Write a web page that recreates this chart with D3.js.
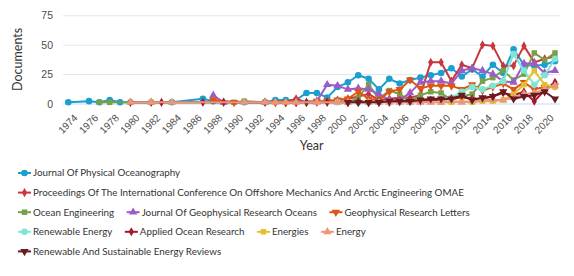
<!DOCTYPE html>
<html>
<head>
<meta charset="utf-8">
<script src="https://cdn.jsdelivr.net/npm/d3@7"></script>
<style>
body { margin: 0; background: #fff; }
svg { display: block; font-family: Lato, "Open Sans", sans-serif; }
</style>
</head>
<body>
<div id="canvas"></div>
<script>
const tickYears = [1974, 1976, 1978, 1980, 1982, 1984, 1986, 1988, 1990, 1992, 1994, 1996,
    1998, 2000, 2002, 2004, 2006, 2008, 2010, 2012, 2014, 2016, 2018, 2020]
const yTicks = [0, 25, 50, 75]

const names = [
    "Journal Of Physical Oceanography",
    "Proceedings Of The International Conference On Offshore Mechanics And Arctic Engineering OMAE",
    "Ocean Engineering",
    "Journal Of Geophysical Research Oceans",
    "Geophysical Research Letters",
    "Renewable Energy",
    "Applied Ocean Research",
    "Energies",
    "Energy",
    "Renewable And Sustainable Energy Reviews"
]
const colors = ["#1a9fd0", "#c6383e", "#78a04b", "#9c5cc6", "#de5412",
    "#7fe6d6", "#a3182b", "#e2c12c", "#ea987b", "#6b1a20"]
const symbols = [d3.symbolCircle, d3.symbolDiamond, d3.symbolSquare, d3.symbolTriangle, "down",
    d3.symbolCircle, d3.symbolDiamond, d3.symbolSquare, d3.symbolTriangle, "down"]

// [year, documents]
const jpo = [[1973, 1], [1975, 2], [1976, 1], [1977, 3], [1978, 1], [1983, 1], [1986, 4], [1987, 2],
    [1990, 1], [1992, 1], [1993, 3], [1994, 3], [1995, 3], [1996, 9], [1997, 9], [1998, 5], [1999, 14],
    [2000, 18], [2001, 24], [2002, 21], [2003, 12], [2004, 21], [2005, 17], [2006, 20], [2007, 22],
    [2008, 24], [2009, 26], [2010, 30], [2011, 23], [2012, 29], [2013, 23], [2014, 33], [2015, 26],
    [2016, 46], [2017, 33], [2018, 32], [2019, 33], [2020, 36]]
const omae = [[1993, 1], [1994, 1], [1995, 4], [1996, 1], [1997, 1], [1998, 2], [1999, 3], [2000, 4],
    [2001, 6], [2002, 8], [2003, 3], [2004, 4], [2005, 5], [2006, 5], [2007, 7], [2008, 35], [2009, 35],
    [2010, 19], [2011, 33], [2012, 30], [2013, 50], [2014, 49], [2015, 32], [2016, 32], [2017, 49],
    [2018, 35], [2019, 38], [2020, 40]]
const oceanEng = [[1976, 1], [1977, 1], [1979, 1], [1981, 1], [1989, 1], [1990, 2], [1992, 1],
    [1999, 1], [2000, 1], [2001, 5], [2002, 16], [2003, 4], [2004, 11], [2005, 8], [2006, 2], [2007, 7],
    [2008, 10], [2009, 9], [2010, 3], [2011, 6], [2012, 8], [2013, 19], [2014, 22], [2015, 28],
    [2016, 20], [2017, 25], [2018, 43], [2019, 37], [2020, 43]]
const jgrOceans = [[1987, 7], [1988, 1], [1992, 1], [1997, 2], [1998, 16], [1999, 15], [2000, 12],
    [2001, 13], [2002, 12], [2003, 8], [2004, 3], [2005, 3], [2006, 9], [2007, 18], [2008, 19],
    [2009, 19], [2010, 17], [2011, 28], [2012, 30], [2013, 28], [2014, 25], [2015, 19], [2016, 18],
    [2017, 34], [2018, 34], [2019, 26], [2020, 28]]
const grl = [[1987, 3], [1989, 1], [1993, 1], [1994, 1], [1995, 1], [1996, 1], [1997, 2], [1998, 2],
    [1999, 3], [2000, 4], [2001, 10], [2002, 4], [2003, 3], [2004, 10], [2005, 12], [2006, 20],
    [2007, 13], [2008, 15], [2009, 15], [2010, 15], [2011, 12], [2012, 16], [2013, 11], [2014, 14],
    [2015, 17], [2016, 12], [2017, 18], [2018, 12], [2019, 14], [2020, 15]]
const renewable = [[1996, 1], [1999, 1], [2001, 1], [2002, 1], [2004, 1], [2005, 1], [2006, 1],
    [2007, 2], [2008, 3], [2009, 4], [2010, 5], [2011, 10], [2012, 14], [2013, 12], [2014, 15],
    [2015, 19], [2016, 42], [2017, 28], [2018, 16], [2019, 24], [2020, 38]]
const appliedOcean = [[1979, 1], [1981, 1], [1982, 1], [1986, 1], [1988, 1], [1992, 1], [1994, 1],
    [1995, 1], [1996, 1], [1998, 1], [2000, 1], [2001, 2], [2002, 1], [2003, 2], [2004, 1], [2005, 2],
    [2006, 3], [2007, 2], [2008, 3], [2009, 3], [2010, 4], [2011, 5], [2012, 4], [2013, 4], [2014, 6],
    [2015, 9], [2016, 7], [2017, 10], [2018, 2], [2019, 11], [2020, 18]]
const energies = [[2009, 1], [2010, 1], [2011, 2], [2012, 1], [2013, 2], [2014, 2], [2015, 3],
    [2016, 8], [2017, 16], [2018, 28], [2019, 16], [2020, 14]]
const energy = [[1979, 1], [1981, 1], [1983, 1], [1990, 1], [1992, 1], [1993, 1], [1994, 1],
    [1995, 1], [1997, 1], [1999, 1], [2000, 1], [2002, 1], [2003, 1], [2004, 1], [2005, 1], [2006, 1],
    [2007, 1], [2008, 1], [2009, 1], [2010, 2], [2011, 1], [2012, 2], [2013, 3], [2014, 3], [2015, 3],
    [2016, 5], [2017, 8], [2018, 9], [2019, 12], [2020, 15]]
const rser = [[2000, 1], [2001, 1], [2002, 1], [2003, 1], [2004, 2], [2005, 2], [2006, 2], [2007, 3],
    [2008, 4], [2009, 4], [2010, 4], [2011, 7], [2012, 3], [2013, 5], [2014, 6], [2015, 10], [2016, 4],
    [2017, 6], [2018, 7], [2019, 10], [2020, 4]]

const seriesData = [jpo, omae, oceanEng, jgrOceans, grl, renewable, appliedOcean, energies, energy, rser]

const width = 574
const height = 276
const plotLeft = 63
const plotRight = 560

const svg = d3.select("#canvas").append("svg")
    .attr("width", width)
    .attr("height", height)

const x = d3.scaleLinear().domain([1973, 2020]).range([68.3, 555])
const y = d3.scaleLinear().domain([0, 75]).range([103.5, 15.3])

// y grid + labels
const yAxis = svg.append("g")
    .attr("transform", `translate(${plotLeft},0)`)
    .call(d3.axisLeft(y).tickValues(yTicks).tickSize(-(plotRight - plotLeft)).tickPadding(10))
yAxis.select(".domain").remove()
yAxis.selectAll("line").attr("stroke", d => d === 0 ? "#ccd6eb" : "#e6e6e6")
yAxis.selectAll("text")
    .attr("fill", "#4d4d4d")
    .style("font-size", "10.5px")
    .attr("dy", "0.35em")

// x labels
const xAxis = svg.append("g")
    .attr("transform", `translate(0,${y(0)})`)
    .call(d3.axisBottom(x).tickValues(tickYears).tickFormat(d3.format("d")).tickSize(0))
xAxis.select(".domain").remove()
xAxis.selectAll("text")
    .attr("y", null)
    .attr("dy", null)
    .attr("text-anchor", "end")
    .attr("transform", "translate(-1,15) rotate(-45)")
    .attr("fill", "#4d4d4d")
    .style("font-size", "10px")

svg.append("text")
    .attr("transform", `translate(22,${(y(0) + y(75)) / 2}) rotate(-90)`)
    .attr("text-anchor", "middle")
    .attr("fill", "#333")
    .style("font-size", "12.5px")
    .text("Documents")

svg.append("text")
    .attr("x", (x(1973) + x(2020)) / 2)
    .attr("y", 150)
    .attr("text-anchor", "middle")
    .attr("fill", "#333")
    .style("font-size", "12.5px")
    .text("Year")

function symbolPath(s, size) {
    if (s === "down") return d3.symbol(d3.symbolTriangle, size)()
    return d3.symbol(s, size)()
}
const sizes = [34, 24, 30, 30, 30, 34, 24, 30, 30, 30]
function rot(i) { return symbols[i] === "down" ? " rotate(180)" : "" }

const line = d3.line().x(d => x(d[0])).y(d => y(d[1]))

seriesData.forEach((data, i) => {
    const g = svg.append("g")
    g.append("path")
        .datum(data)
        .attr("d", line)
        .attr("fill", "none")
        .attr("stroke", colors[i])
        .attr("stroke-width", 2)
        .attr("stroke-linejoin", "round")
    g.selectAll("path.m").data(data).enter()
        .append("path")
        .attr("class", "m")
        .attr("d", symbolPath(symbols[i], sizes[i]))
        .attr("transform", d => `translate(${x(d[0])},${y(d[1])})${rot(i)}`)
        .attr("fill", colors[i])
})

// legend
const legend = svg.append("g")
let lx = 18
let ly = 173
const maxX = 520
names.forEach((n, i) => {
    const item = legend.append("g")
    item.append("line")
        .attr("x1", 0).attr("x2", 13)
        .attr("stroke", colors[i])
        .attr("stroke-width", 2)
    item.append("path")
        .attr("d", symbolPath(symbols[i], sizes[i]))
        .attr("transform", `translate(6.5,0)${rot(i)}`)
        .attr("fill", colors[i])
    const t = item.append("text")
        .attr("x", 15)
        .attr("dy", "0.35em")
        .attr("fill", "#333")
        .style("font-size", "9.8px")
        .text(n)
    const w = 15 + t.node().getComputedTextLength()
    if (lx > 18 && lx + w > maxX) {
        lx = 18
        ly += 19.6
    }
    item.attr("transform", `translate(${lx},${ly})`)
    lx += w + 12.5
})
</script>
</body>
</html>
